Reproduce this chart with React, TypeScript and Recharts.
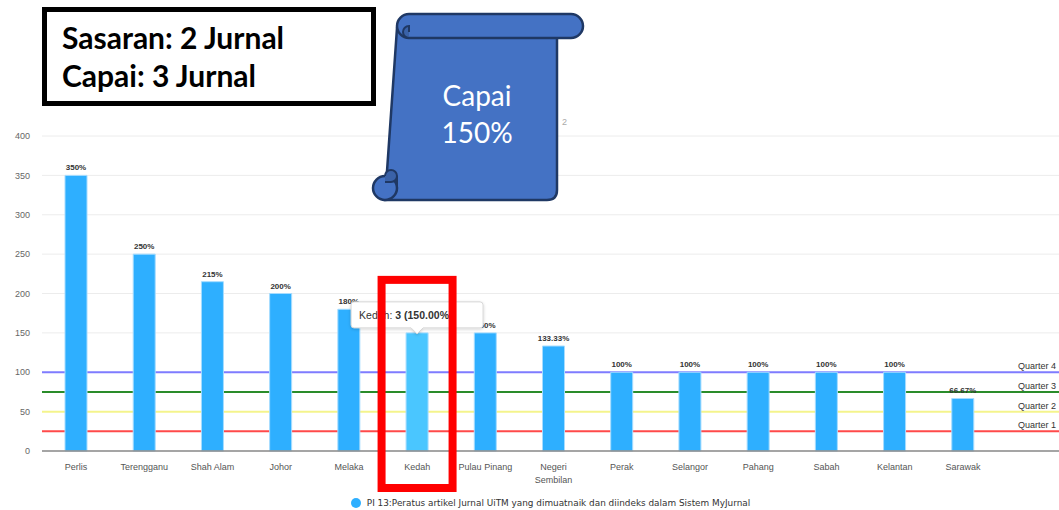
import { BarChart, Bar, XAxis, YAxis, CartesianGrid, ReferenceLine, LabelList, Cell, Legend } from 'recharts'

const states = [
  'Perlis', 'Terengganu', 'Shah Alam', 'Johor', 'Melaka', 'Kedah', 'Pulau Pinang',
  'Negeri Sembilan', 'Perak', 'Selangor', 'Pahang', 'Sabah', 'Kelantan', 'Sarawak',
]
const achieved = [350, 250, 215, 200, 180, 150, 150, 133.33, 100, 100, 100, 100, 100, 66.67]
const yTicks = [0, 50, 100, 150, 200, 250, 300, 350, 400]

const quarterNames = ['Quarter 1', 'Quarter 2', 'Quarter 3', 'Quarter 4']
const quarterValues = [25, 50, 75, 100]
const quarterColors = ['#ff4a4a', '#f4f48c', '#2a8c2a', '#7f7cff']

const highlighted = 'Kedah'
const kedahJournals = 3
const seriesName = 'PI 13:Peratus artikel Jurnal UiTM yang dimuatnaik dan diindeks dalam Sistem MyJurnal'

const BAR = '#2eafff'
const BAR_HOVER = '#4ac6ff'
const AXIS_FONT = '"Liberation Sans", Arial, sans-serif'

const data = states.map((s, i) => ({
  state: s,
  pct: achieved[i],
  label: `${achieved[i]}%`,
  callout: s === highlighted ? `${kedahJournals} (${achieved[i].toFixed(2)}%)` : '',
}))

// long names break onto two lines, like "Negeri / Sembilan"
function StateTick({ x, y, payload }: any) {
  const name: string = payload.value
  const lines = name.length > 12 ? name.split(' ') : [name]
  return (
    <text x={x} y={y + 7} textAnchor="middle" fontSize={9} fill="#555" fontFamily={AXIS_FONT}>
      {lines.map((ln, i) => (
        <tspan key={i} x={x} dy={i === 0 ? 0 : 13}>{ln}</tspan>
      ))}
    </text>
  )
}

// tooltip bubble + red highlight frame hung off the hovered bar
function Callout(props: any) {
  const { x, y, width, height, value } = props
  if (!value) return null
  const cx = x + width / 2
  const w = 132
  const h = 26
  const top = y - 31
  const l = cx - w / 2
  const bubble = `M${l + 3},${top} H${l + w - 3} Q${l + w},${top} ${l + w},${top + 3} V${top + h - 3} Q${l + w},${top + h} ${l + w - 3},${top + h} H${cx + 6} L${cx},${top + h + 6} L${cx - 6},${top + h} H${l + 3} Q${l},${top + h} ${l},${top + h - 3} V${top + 3} Q${l},${top} ${l + 3},${top} Z`
  return (
    <g>
      <defs>
        <filter id="tipShadow" x="-20%" y="-40%" width="140%" height="180%">
          <feDropShadow dx="0" dy="1" stdDeviation="1.5" floodColor="#000" floodOpacity="0.18" />
        </filter>
      </defs>
      <path d={bubble} fill="#fff" stroke="#d6d6d6" strokeWidth={1} filter="url(#tipShadow)" />
      <text x={l + 8} y={top + 17} fontSize={10.5} fill="#333" fontFamily={AXIS_FONT}>
        {highlighted}: <tspan fontWeight="bold">{value}</tspan>
      </text>
      <rect x={cx - 35.5} y={y - 53} width={71} height={height + 90}
        fill="none" stroke="#ff0000" strokeWidth={8} />
    </g>
  )
}

function SeriesLegend() {
  return (
    <div style={{ height: 14, display: 'flex', justifyContent: 'center', alignItems: 'center',
      fontFamily: '"DejaVu Sans", Verdana, sans-serif', fontSize: 8.9, color: '#333' }}>
      <span style={{ width: 10, height: 10, borderRadius: '50%', background: BAR, marginRight: 6, display: 'inline-block' }} />
      {seriesName}
    </div>
  )
}

function Scroll() {
  return (
    <svg width={1059} height={510} style={{ position: 'absolute', left: 0, top: 0, pointerEvents: 'none' }}>
      <text x={562} y={125} fontSize={9} fill="#aaa" fontFamily={AXIS_FONT}>2</text>
      <path d="M397,28 H557 V190 Q557,200 547,200 H385 Z" fill="#4472c4" stroke="#1f3864" strokeWidth={2.5} />
      <rect x={397} y={14} width={186} height={24} rx={12} fill="#4472c4" stroke="#1f3864" strokeWidth={2.5} />
      <path d="M409,38 A6,6 0 1 1 409,26 L409,32" fill="#3a62a8" stroke="#1f3864" strokeWidth={2} />
      <circle cx={385} cy={188} r={12} fill="#4472c4" stroke="#1f3864" strokeWidth={2.5} />
      <path d="M385,176 A6,6 0 1 1 391,182 L385,182" fill="#3a62a8" stroke="#1f3864" strokeWidth={2} />
      <line x1={397} y1={176} x2={397} y2={188} stroke="#1f3864" strokeWidth={2} />
      <text x={477} y={106} textAnchor="middle" fontSize={28} fill="#fff" fontFamily="Lato, 'Open Sans', sans-serif">Capai</text>
      <text x={477} y={143} textAnchor="middle" fontSize={28} fill="#fff" fontFamily="Lato, 'Open Sans', sans-serif">150%</text>
    </svg>
  )
}

export default function App() {
  return (
    <div style={{ position: 'absolute', left: 0, top: 0, width: 1059, height: 510, background: '#fff', overflow: 'hidden' }}>
      <style>{'body{margin:0;overflow:hidden}'}</style>
      <BarChart width={1059} height={510} data={data} margin={{ top: 136, right: 0, bottom: 0, left: 0 }}>
        <CartesianGrid vertical={false} stroke="#ececec" />
        <XAxis dataKey="state" interval={0} tickLine={false} tick={<StateTick />} tickMargin={6}
          height={45} padding={{ left: 0, right: 62 }} axisLine={{ stroke: '#8a8a8a', strokeWidth: 1.5 }} />
        <YAxis width={42} domain={[0, 400]} ticks={yTicks} tickLine={false} axisLine={false} tickMargin={6}
          tick={{ fontSize: 9, fill: '#666', fontFamily: AXIS_FONT }} />
        {quarterValues.map((v, i) => (
          <ReferenceLine key={quarterNames[i]} y={v} stroke={quarterColors[i]} strokeWidth={2} zIndex={250}
            label={{ value: quarterNames[i], position: 'insideBottomRight', offset: 3, fontSize: 9, fill: '#333', fontFamily: AXIS_FONT }} />
        ))}
        <Legend verticalAlign="bottom" content={<SeriesLegend />} wrapperStyle={{ left: 42, width: 1017, bottom: 0 }} />
        <Bar dataKey="pct" name={seriesName} barSize={22} stroke="#a6dcff" strokeWidth={1} isAnimationActive={false}>
          {data.map((d) => (
            <Cell key={d.state} fill={d.state === highlighted ? BAR_HOVER : BAR} />
          ))}
          <LabelList dataKey="label" position="top" offset={5} fontSize={8} fontWeight="bold" fill="#333" fontFamily={AXIS_FONT} />
          <LabelList dataKey="callout" content={<Callout />} />
        </Bar>
      </BarChart>
      <div style={{ position: 'absolute', left: 42, top: 7, width: 334, height: 99, boxSizing: 'border-box',
        border: '5px solid #000', background: '#fff', paddingLeft: 15, paddingTop: 6,
        fontFamily: 'Lato, "Open Sans", sans-serif', fontWeight: 'bold', fontSize: 30, lineHeight: '38px', color: '#000' }}>
        <div>Sasaran: 2 Jurnal</div>
        <div>Capai: 3 Jurnal</div>
      </div>
      <Scroll />
    </div>
  )
}
